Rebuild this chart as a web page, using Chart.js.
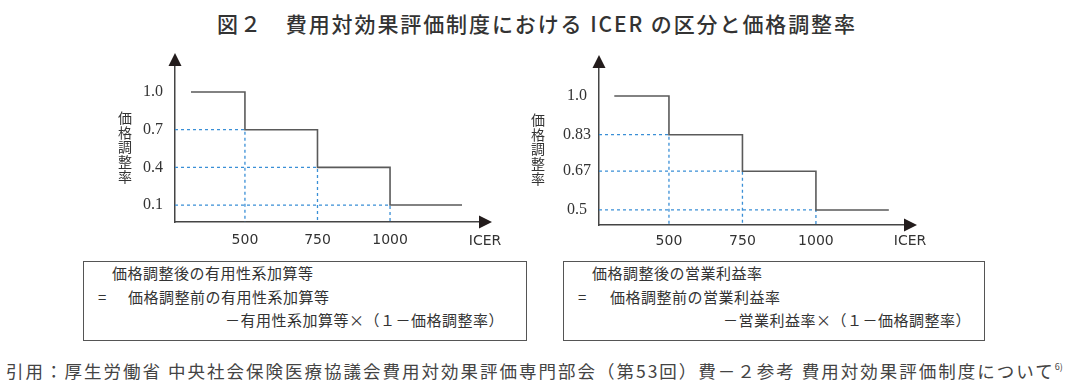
<!DOCTYPE html>
<html lang="ja">
<head>
<meta charset="utf-8">
<script src="https://cdn.jsdelivr.net/npm/chart.js@4"></script>
<style>
  html, body { margin: 0; padding: 0; background: #fff; }
  body { width: 1074px; height: 387px; position: relative; overflow: hidden;
    font-family: 'Noto Sans CJK JP', sans-serif; color: #333; }
  .title { position: absolute; left: 0; width: 1074px; top: 8px; text-align: center;
    font-size: 21px; font-weight: 500; letter-spacing: 1.9px; color: #333; }
  canvas { position: absolute; }
  .box { position: absolute; border: 1px solid #555; top: 261px; height: 80px; box-sizing: border-box; }
  .box div { position: absolute; white-space: nowrap; font-size: 15px; letter-spacing: 0.5px; line-height: 20px; color: #333; }
  .footer { position: absolute; left: 6px; top: 358px; font-size: 17.5px; letter-spacing: 2px; white-space: nowrap; color: #444; }
  .footer sup { font-size: 9px; vertical-align: 8px; letter-spacing: 0; }
</style>
</head>
<body>
<div class="title">図２　費用対効果評価制度における ICER の区分と価格調整率</div>

<canvas id="leftChart" width="420" height="210" style="left:100px;top:40px"></canvas>
<canvas id="rightChart" width="420" height="210" style="left:520px;top:40px"></canvas>

<div class="box" style="left:83px;width:444px">
  <div style="left:28px;top:1px">価格調整後の有用性系加算等</div>
  <div style="left:14px;top:25px">=</div>
  <div style="left:44px;top:25px">価格調整前の有用性系加算等</div>
  <div style="left:141px;top:48px">－有用性系加算等×（１－価格調整率）</div>
</div>
<div class="box" style="left:563px;width:422px">
  <div style="left:28px;top:1px">価格調整後の営業利益率</div>
  <div style="left:14px;top:25px">=</div>
  <div style="left:46px;top:25px">価格調整前の営業利益率</div>
  <div style="left:159px;top:48px">－営業利益率×（１－価格調整率）</div>
</div>

<div class="footer">引用：厚生労働省 中央社会保険医療協議会費用対効果評価専門部会（第53回）費－２参考 費用対効果評価制度について<sup>6)</sup></div>

<script>
// ICER break points shared by both panels
const icerBreaks = [500, 750, 1000];
const icerLabels = ['500', '750', '1000'];
const lineStart = 314;
const lineEnd = 1248;

// left panel: 有用性系加算等
const leftRates = [1.0, 0.7, 0.4, 0.1];
const leftRateLabels = ['1.0', '0.7', '0.4', '0.1'];

// right panel: 営業利益率
const rightRates = [1.0, 0.83, 0.67, 0.5];
const rightRateLabels = ['1.0', '0.83', '0.67', '0.5'];

const yTitleChars = ['価', '格', '調', '整', '率'];

const stepColor = '#5a5a5a';
const guideColor = '#3a8fd6';
const axisColor = '#444';
const textColor = '#333';

const axisDecor = {
  id: 'axisDecor',
  afterDraw(chart, args, opts) {
    const { ctx, chartArea: ca } = chart;
    ctx.save();
    ctx.fillStyle = '#231c1c';
    // up arrow on y axis
    ctx.beginPath();
    ctx.moveTo(ca.left, ca.top - 12);
    ctx.lineTo(ca.left - 6.5, ca.top + 1);
    ctx.lineTo(ca.left + 6.5, ca.top + 1);
    ctx.closePath();
    ctx.fill();
    // right arrow on x axis
    ctx.beginPath();
    ctx.moveTo(ca.right + 12, ca.bottom);
    ctx.lineTo(ca.right - 1, ca.bottom - 6.5);
    ctx.lineTo(ca.right - 1, ca.bottom + 6.5);
    ctx.closePath();
    ctx.fill();

    ctx.fillStyle = textColor;
    ctx.textAlign = 'center';
    ctx.textBaseline = 'middle';
    ctx.font = '14px "DejaVu Sans"';
    ctx.fillText('ICER', ca.right + 5, ca.bottom + opts.icerDy);

    ctx.font = '14px "Noto Sans CJK JP"';
    const n = yTitleChars.length;
    yTitleChars.forEach((ch, i) => {
      const y = opts.titleY + (i - (n - 1) / 2) * 14.8;
      ctx.fillText(ch, ca.left - opts.titleDx, y);
    });
    ctx.restore();
  },
};

function buildStepChart(canvasId, rates, rateLabels, o) {
  const stepData = [{ x: lineStart, y: rates[0] }];
  icerBreaks.forEach((bp, i) => stepData.push({ x: bp, y: rates[i + 1] }));
  stepData.push({ x: lineEnd, y: rates[rates.length - 1] });

  const guides = icerBreaks.map((bp, i) => ({
    data: [
      { x: o.xMin, y: rates[i + 1] },
      { x: bp, y: rates[i + 1] },
      { x: bp, y: o.yMin },
    ],
    borderColor: guideColor,
    borderWidth: 1.3,
    borderDash: [3, 3],
    pointRadius: 0,
    fill: false,
  }));

  return new Chart(document.getElementById(canvasId), {
    type: 'line',
    data: {
      datasets: [
        {
          data: stepData,
          stepped: 'before',
          borderColor: stepColor,
          borderWidth: 1.6,
          pointRadius: 0,
          fill: false,
        },
        ...guides,
      ],
    },
    options: {
      responsive: false,
      animation: false,
      layout: { padding: { top: o.padTop, right: o.padRight, left: 0, bottom: 0 } },
      plugins: {
        legend: { display: false },
        tooltip: { enabled: false },
        axisDecor: { titleDx: o.titleDx, titleY: o.titleY, icerDy: o.icerDy },
      },
      scales: {
        x: {
          type: 'linear',
          min: o.xMin,
          max: o.xMax,
          grid: { display: false, drawTicks: false },
          border: { display: true, color: axisColor, width: 1.5 },
          afterBuildTicks: (scale) => { scale.ticks = icerBreaks.map((v) => ({ value: v })); },
          afterFit: (scale) => { scale.height = o.xHeight; },
          ticks: {
            padding: o.xPad,
            color: textColor,
            font: { family: 'DejaVu Sans', size: 14 },
            maxRotation: 0,
            autoSkip: false,
            callback: (v) => icerLabels[icerBreaks.indexOf(v)],
          },
        },
        y: {
          type: 'linear',
          min: o.yMin,
          max: o.yMax,
          grid: { display: false, drawTicks: false },
          border: { display: true, color: axisColor, width: 1.5 },
          afterBuildTicks: (scale) => { scale.ticks = rates.map((v) => ({ value: v })); },
          afterFit: (scale) => { scale.width = o.yWidth; },
          ticks: {
            padding: o.yPad,
            crossAlign: 'center',
            color: textColor,
            font: { family: 'Liberation Serif', size: 16 },
            autoSkip: false,
            callback: (v) => rateLabels[rates.indexOf(v)],
          },
        },
      },
    },
    plugins: [axisDecor],
  });
}

buildStepChart('leftChart', leftRates, leftRateLabels, {
  xMin: 259, xMax: 1310, yMin: -0.035, yMax: 1.215,
  padTop: 25, padRight: 40, yWidth: 75, xHeight: 28,
  xPad: 10, yPad: 12, titleDx: 50, titleY: 107, icerDy: 19,
});

buildStepChart('rightChart', rightRates, rightRateLabels, {
  xMin: 262, xMax: 1303, yMin: 0.434, yMax: 1.127,
  padTop: 27, padRight: 35, yWidth: 79, xHeight: 25,
  xPad: 8, yPad: 8, titleDx: 61, titleY: 109, icerDy: 16,
});
</script>
</body>
</html>
